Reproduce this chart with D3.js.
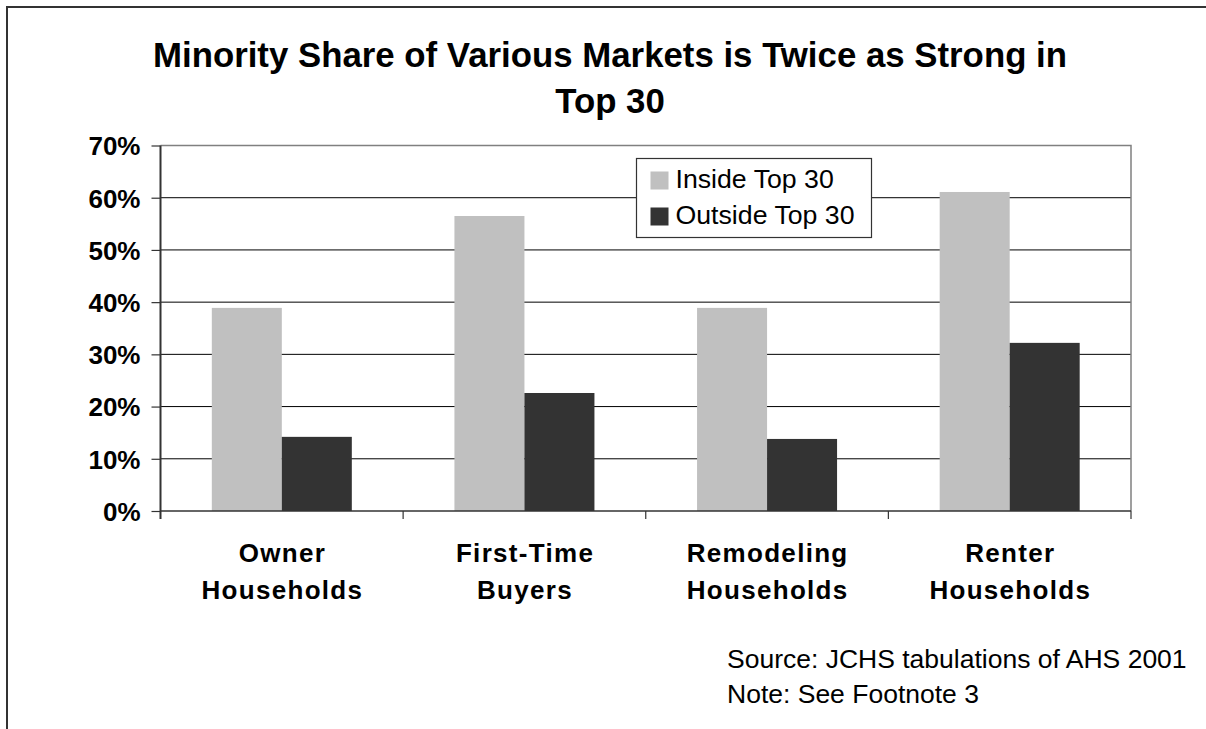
<!DOCTYPE html>
<html>
<head>
<meta charset="utf-8">
<script src="https://cdn.jsdelivr.net/npm/d3@7"></script>
<style>
  html, body { margin: 0; padding: 0; background: #fff; }
  svg { display: block; font-family: Arial, "Liberation Sans", sans-serif; }
</style>
</head>
<body>
<svg id="chart" width="1206" height="729"></svg>
<script>
// Minority share by market, inside vs outside the top 30 metros
const categories = [["Owner", "Households"], ["First-Time", "Buyers"], ["Remodeling", "Households"], ["Renter", "Households"]];
const seriesNames = ["Inside Top 30", "Outside Top 30"];
const insideTop30 = [0.389, 0.565, 0.389, 0.611];
const outsideTop30 = [0.142, 0.226, 0.138, 0.322];
const yTicks = [0, 0.1, 0.2, 0.3, 0.4, 0.5, 0.6, 0.7];
const titleLines = ["Minority Share of Various Markets is Twice as Strong in", "Top 30"];
const noteLines = ["Source: JCHS tabulations of AHS 2001", "Note: See Footnote 3"];
const colors = ["#c0c0c0", "#333333"];

const svg = d3.select("#chart");
const plot = { left: 160.5, right: 1131, top: 145.5, bottom: 511 };

// outer frame (top and left edges)
svg.append("path")
  .attr("d", "M7,729 V7 H1206")
  .attr("fill", "none").attr("stroke", "#333").attr("stroke-width", 2);

// title
svg.append("g").selectAll("text").data(titleLines).join("text")
  .attr("x", 610).attr("y", (d, i) => 67 + i * 46)
  .attr("text-anchor", "middle")
  .attr("font-size", 34.8).attr("font-weight", "bold").attr("fill", "#000")
  .text(d => d);

const keys = categories.map(c => c.join(" "));
const x0 = d3.scaleBand().domain(keys).range([plot.left, plot.right]).paddingInner(0).paddingOuter(0);
const x1 = d3.scaleBand().domain(seriesNames).range([0, x0.bandwidth()]).paddingOuter(0.733).paddingInner(0);
const y = d3.scaleLinear().domain([0, 0.7]).range([plot.bottom, plot.top]);

// gridlines
svg.append("g").selectAll("line").data(yTicks.filter(t => t > 0 && t < 0.7)).join("line")
  .attr("x1", plot.left).attr("x2", plot.right)
  .attr("y1", d => y(d)).attr("y2", d => y(d))
  .attr("stroke", "#000").attr("stroke-width", 1);

// plot area border (top/right)
svg.append("path")
  .attr("d", `M${plot.left},${plot.top} H${plot.right} V${plot.bottom}`)
  .attr("fill", "none").attr("stroke", "#808080").attr("stroke-width", 1.5);

// bars
const rows = keys.map((k, i) => ({ key: k, values: [insideTop30[i], outsideTop30[i]] }));
const groups = svg.append("g").selectAll("g").data(rows).join("g")
  .attr("transform", d => `translate(${x0(d.key)},0)`);
groups.selectAll("rect").data(d => d.values.map((v, j) => ({ name: seriesNames[j], v, j }))).join("rect")
  .attr("x", d => x1(d.name))
  .attr("width", x1.bandwidth())
  .attr("y", d => y(d.v))
  .attr("height", d => y(0) - y(d.v))
  .attr("fill", d => colors[d.j]);

// y axis
const yAxis = svg.append("g")
  .attr("transform", `translate(${plot.left},0)`)
  .call(d3.axisLeft(y).tickValues(yTicks).tickFormat(d3.format(".0%")).tickSize(9).tickPadding(11));
yAxis.select(".domain").attr("stroke", "#333").attr("stroke-width", 2)
  .attr("d", `M0,${plot.top}V${plot.bottom + 8}`);
yAxis.selectAll(".tick line").attr("stroke", "#333").attr("stroke-width", 1.2);
yAxis.selectAll(".tick text")
  .attr("font-size", 26).attr("font-weight", "bold").attr("fill", "#000")
  .attr("font-family", "Arial, 'Liberation Sans', sans-serif")
  .attr("dy", "0.36em");

// x axis
const boundaries = keys.slice(1).map(k => x0(k)).concat([plot.right]);
svg.append("line")
  .attr("x1", plot.left).attr("x2", plot.right)
  .attr("y1", plot.bottom).attr("y2", plot.bottom)
  .attr("stroke", "#333").attr("stroke-width", 1.5);
svg.append("g").selectAll("line").data(boundaries).join("line")
  .attr("x1", d => d).attr("x2", d => d)
  .attr("y1", plot.bottom).attr("y2", plot.bottom + 8)
  .attr("stroke", "#333").attr("stroke-width", 1.2);

const xl = svg.append("g").selectAll("text").data(categories).join("text")
  .attr("x", (d, i) => x0(keys[i]) + x0.bandwidth() / 2 + 0.6)
  .attr("text-anchor", "middle")
  .attr("font-size", 26).attr("font-weight", "bold").attr("fill", "#000")
  .attr("letter-spacing", 1.3);
xl.selectAll("tspan").data(d => d).join("tspan")
  .attr("x", function () { return d3.select(this.parentNode).attr("x"); })
  .attr("y", (d, i) => 562 + i * 37)
  .text(d => d);

// legend
const lg = svg.append("g").attr("transform", "translate(636.5,158.5)");
lg.append("rect").attr("width", 235).attr("height", 79)
  .attr("fill", "#fff").attr("stroke", "#333").attr("stroke-width", 1.2);
seriesNames.forEach((name, i) => {
  lg.append("rect").attr("x", 14).attr("y", 13 + i * 36).attr("width", 18).attr("height", 18).attr("fill", colors[i]);
  lg.append("text").attr("x", 39).attr("y", 29 + i * 36)
    .attr("font-size", 26.7).attr("fill", "#000").text(name);
});

// source note
svg.append("g").selectAll("text").data(noteLines).join("text")
  .attr("x", 727).attr("y", (d, i) => 668 + i * 35)
  .attr("font-size", 26.5).attr("fill", "#000")
  .text(d => d);
</script>
</body>
</html>
